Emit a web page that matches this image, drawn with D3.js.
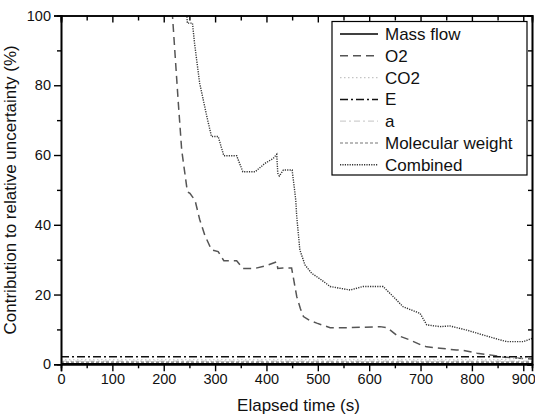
<!DOCTYPE html>
<html>
<head>
<meta charset="utf-8">
<script src="https://cdn.jsdelivr.net/npm/d3@7"></script>
<style>
  body { margin: 0; background: #fff; }
  svg { display: block; font-family: "Liberation Sans", Arial, sans-serif; }
</style>
</head>
<body>
<div id="chart"></div>
<script>
// Series values: [elapsed time (s), contribution (%)]
const massFlow = [[0, 0.2], [917, 0.2]];
const o2 = [[216, 105], [217, 100], [228, 75.8], [235, 61.4], [246, 49.5], [251, 49], [256, 48],
  [261, 47], [270, 41.5], [280, 37], [293, 32.8], [306, 32.3], [317, 29.7], [342, 29.7],
  [354, 27.5], [378, 27.5], [400, 28.3], [420, 29.4], [422, 27.5], [432, 27.6], [449, 27.6],
  [459, 19.4], [466, 16], [472, 13.7], [485, 12.5], [498, 11.8], [524, 10.5], [563, 10.5],
  [621, 10.8], [635, 10.5], [653, 8.4], [679, 7.0], [700, 5.6], [712, 5.0], [738, 4.6],
  [770, 4.1], [783, 4.0], [810, 3.2], [835, 2.7], [860, 2.1], [893, 1.7], [917, 1.5]];
const co2 = [[0, 1.3], [850, 1.3], [917, 2.0]];
const eSeries = [[0, 2.2], [917, 2.2]];
const aSeries = [[0, 0.9], [917, 0.9]];
const molWeight = [[0, 0.6], [917, 0.6]];
const combined = [[244, 110], [245, 100], [246, 97.8], [256, 97.8], [260, 92], [270, 80.6],
  [284, 71], [293, 65.3], [306, 65.3], [317, 59.8], [342, 59.8], [354, 55.2], [378, 55.2],
  [397, 57.6], [413, 59], [420, 60.2], [422, 54.8], [425, 54], [433, 55.7], [450, 55.7],
  [454, 50.9], [457, 47.1], [459, 42.3], [465, 32.8], [475, 28.5], [488, 26.1], [507, 24.2],
  [524, 22.3], [543, 21.8], [563, 21.3], [588, 22.3], [627, 22.3], [647, 19.4], [666, 16.5],
  [699, 14.6], [712, 11.3], [738, 10.8], [757, 11.0], [790, 9.8], [822, 8.4], [855, 7.0],
  [868, 6.5], [900, 6.5], [917, 7.4]];

const seriesNames = ["Mass flow", "O2", "CO2", "E", "a", "Molecular weight", "Combined"];
const seriesData = [massFlow, o2, co2, eSeries, aSeries, molWeight, combined];

const xTicks = [0, 100, 200, 300, 400, 500, 600, 700, 800, 900];
const yTicks = [0, 20, 40, 60, 80, 100];

const styles = [
  { color: "#000", width: 1.3, dash: null },
  { color: "#555", width: 1.5, dash: "8,5" },
  { color: "#c4c4c4", width: 1.2, dash: "1.5,2.5" },
  { color: "#111", width: 1.5, dash: "8,3,2,3" },
  { color: "#d0d0d0", width: 1.2, dash: "6,3,2,3" },
  { color: "#777", width: 1.2, dash: "3,2" },
  { color: "#333", width: 1.4, dash: "1.2,1.2" }
];

const width = 535, height = 416;
const margin = { top: 15.5, right: 3, bottom: 51.7, left: 61 };

const svg = d3.select("#chart").append("svg")
  .attr("width", width)
  .attr("height", height);

const x = d3.scaleLinear().domain([0, 917]).range([margin.left, width - margin.right]);
const y = d3.scaleLinear().domain([0, 100]).range([height - margin.bottom, margin.top]);

svg.append("clipPath").attr("id", "plot-clip")
  .append("rect")
  .attr("x", x(0)).attr("y", y(100))
  .attr("width", x(917) - x(0)).attr("height", y(0) - y(100));

const line = d3.line().x(d => x(d[0])).y(d => y(d[1]));

const plot = svg.append("g").attr("clip-path", "url(#plot-clip)");
seriesData.forEach((data, i) => {
  plot.append("path")
    .datum(data)
    .attr("fill", "none")
    .attr("stroke", styles[i].color)
    .attr("stroke-width", styles[i].width)
    .attr("stroke-dasharray", styles[i].dash)
    .attr("d", line);
});

// Axes
const fontSize = 14.5;
const xMinor = d3.range(50, 917, 100);
const yMinor = d3.range(10, 100, 20);

svg.append("g").attr("transform", `translate(0,${y(0)})`)
  .call(d3.axisBottom(x).tickValues(xTicks).tickSize(7).tickPadding(2).tickFormat(d3.format("d")));
svg.append("g").attr("transform", `translate(0,${y(0)})`)
  .call(d3.axisBottom(x).tickValues(xMinor).tickSize(4).tickFormat(""));

svg.append("g").attr("transform", `translate(${x(0)},0)`)
  .call(d3.axisLeft(y).tickValues(yTicks).tickSize(7).tickPadding(3));
svg.append("g").attr("transform", `translate(${x(0)},0)`)
  .call(d3.axisLeft(y).tickValues(yMinor).tickSize(4).tickFormat(""));

svg.append("g").attr("transform", `translate(0,${y(100)})`)
  .call(d3.axisBottom(x).tickValues(xTicks).tickSize(7).tickFormat(""));
svg.append("g").attr("transform", `translate(0,${y(100)})`)
  .call(d3.axisBottom(x).tickValues(xMinor).tickSize(5).tickFormat(""));

svg.append("g").attr("transform", `translate(${x(917)},0)`)
  .call(d3.axisLeft(y).tickValues(yTicks).tickSize(5).tickFormat(""));
svg.append("g").attr("transform", `translate(${x(917)},0)`)
  .call(d3.axisLeft(y).tickValues(yMinor).tickSize(4).tickFormat(""));

svg.selectAll(".domain").attr("stroke", "#000").attr("stroke-width", 1.6);
svg.selectAll(".tick line").attr("stroke", "#000").attr("stroke-width", 1.4);
svg.selectAll(".tick text")
  .attr("fill", "#111")
  .style("font-size", fontSize + "px")
  .style("font-family", "'Liberation Sans', Arial, sans-serif");

// Axis titles
svg.append("text")
  .attr("x", (x(0) + x(917)) / 2 + 2)
  .attr("y", 411)
  .attr("text-anchor", "middle")
  .style("font-size", "17px")
  .attr("fill", "#111")
  .text("Elapsed time (s)");

svg.append("text")
  .attr("transform", `translate(16,${(y(0) + y(100)) / 2}) rotate(-90)`)
  .attr("text-anchor", "middle")
  .style("font-size", "17px")
  .attr("fill", "#111")
  .text("Contribution to relative uncertainty (%)");

// Legend
const legend = svg.append("g");
legend.append("rect")
  .attr("x", 332).attr("y", 21.5)
  .attr("width", 195).attr("height", 153.5)
  .attr("fill", "#fff")
  .attr("stroke", "#000")
  .attr("stroke-width", 1.2);

seriesNames.forEach((name, i) => {
  const ly = 34 + i * 21.8;
  legend.append("line")
    .attr("x1", 340).attr("x2", 378)
    .attr("y1", ly).attr("y2", ly)
    .attr("stroke", styles[i].color)
    .attr("stroke-width", styles[i].width)
    .attr("stroke-dasharray", styles[i].dash);
  legend.append("text")
    .attr("x", 385).attr("y", ly + 6)
    .style("font-size", "17px")
    .attr("fill", "#111")
    .text(name);
});
</script>
</body>
</html>
